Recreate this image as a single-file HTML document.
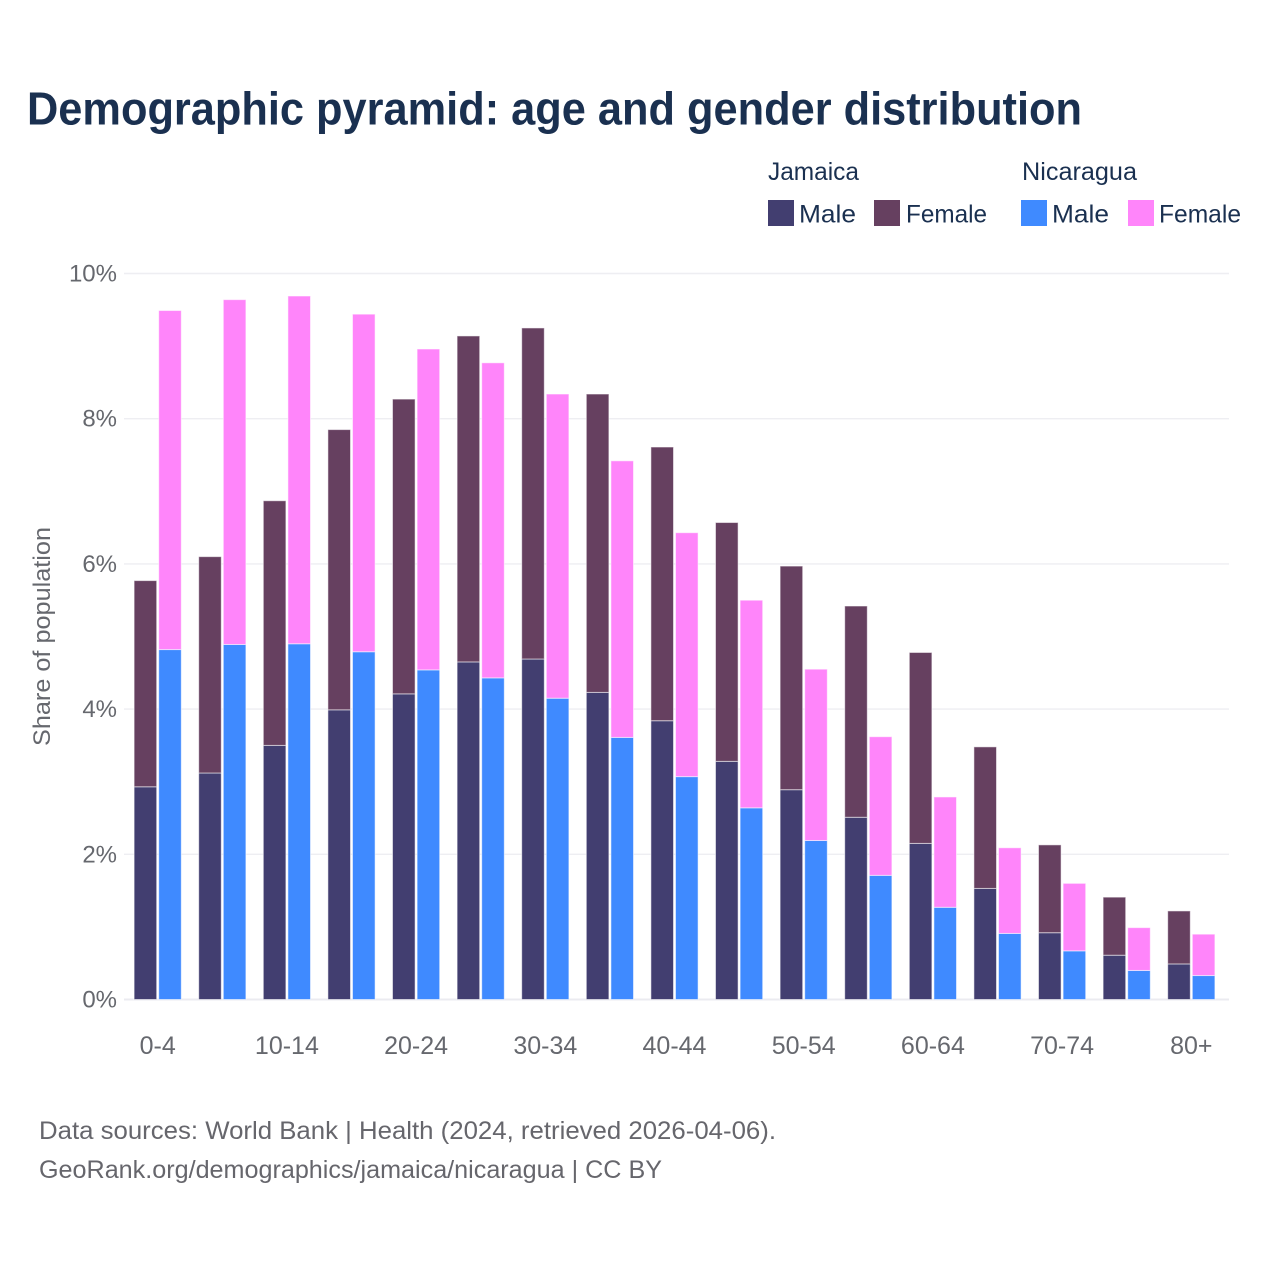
<!DOCTYPE html>
<html lang="en">
<head>
<meta charset="utf-8">
<title>Demographic pyramid: age and gender distribution</title>
<style>
html,body{margin:0;padding:0;background:#fff;width:1280px;height:1280px;overflow:hidden}
svg{display:block}
text{font-family:"Liberation Sans",Arial,sans-serif}
.tick{font-size:24px;fill:#66686e}
.xtick{font-size:25px;fill:#66686e}
.leg{font-size:25px;fill:#1a3050}
.foot{font-size:25px;fill:#66666c}
</style>
</head>
<body>
<svg id="chart" xmlns="http://www.w3.org/2000/svg" width="1280" height="1280" viewBox="0 0 1280 1280">
  <rect x="0" y="0" width="1280" height="1280" fill="#ffffff"/>
  <text x="27" y="124.5" font-size="46" font-weight="700" fill="#1a3050" textLength="1055" lengthAdjust="spacingAndGlyphs">Demographic pyramid: age and gender distribution</text>

  <g>
    <text class="leg" x="768" y="180" textLength="91" lengthAdjust="spacingAndGlyphs">Jamaica</text>
    <text class="leg" x="1022" y="180" textLength="115" lengthAdjust="spacingAndGlyphs">Nicaragua</text>
    <g>
      <rect x="768" y="200" width="26" height="26" fill="#423e70"/>
      <text class="leg" x="799" y="222.5" textLength="57" lengthAdjust="spacingAndGlyphs">Male</text>
    </g>
    <g>
      <rect x="874" y="200" width="26" height="26" fill="#664060"/>
      <text class="leg" x="906" y="222.5" textLength="81" lengthAdjust="spacingAndGlyphs">Female</text>
    </g>
    <g>
      <rect x="1021" y="200" width="26" height="26" fill="#3f8aff"/>
      <text class="leg" x="1052" y="222.5" textLength="57" lengthAdjust="spacingAndGlyphs">Male</text>
    </g>
    <g>
      <rect x="1128" y="200" width="26" height="26" fill="#ff85fa"/>
      <text class="leg" x="1159" y="222.5" textLength="82" lengthAdjust="spacingAndGlyphs">Female</text>
    </g>
  </g>

  <g id="grid"></g>
  <g id="yticks"></g>
  <g id="bars"></g>
  <g id="xticks"></g>

  <text x="0" y="0" transform="translate(50,636.5) rotate(-90)" text-anchor="middle" font-size="24" fill="#66686e" textLength="219" lengthAdjust="spacingAndGlyphs">Share of population</text>

  <text class="foot" x="39" y="1139" textLength="737" lengthAdjust="spacingAndGlyphs">Data sources: World Bank | Health (2024, retrieved 2026-04-06).</text>
  <text class="foot" x="39" y="1178" textLength="623" lengthAdjust="spacingAndGlyphs">GeoRank.org/demographics/jamaica/nicaragua | CC BY</text>
</svg>
<script>
const ageGroups = ["0-4","5-9","10-14","15-19","20-24","25-29","30-34","35-39","40-44","45-49","50-54","55-59","60-64","65-69","70-74","75-79","80+"];
const jamaicaMale = [2.93,3.12,3.50,3.99,4.21,4.65,4.69,4.23,3.84,3.28,2.89,2.51,2.15,1.53,0.92,0.61,0.49];
const jamaicaFemale = [2.84,2.98,3.37,3.86,4.06,4.49,4.56,4.11,3.77,3.29,3.08,2.91,2.63,1.95,1.21,0.80,0.73];
const nicaraguaMale = [4.82,4.89,4.90,4.79,4.54,4.43,4.15,3.61,3.07,2.64,2.19,1.71,1.27,0.91,0.67,0.40,0.33];
const nicaraguaFemale = [4.67,4.75,4.79,4.65,4.42,4.34,4.19,3.81,3.36,2.86,2.36,1.91,1.52,1.18,0.93,0.59,0.57];
const yTickValues = [0,2,4,6,8,10];
const yTickLabels = ["0%","2%","4%","6%","8%","10%"];
const xTickLabels = ["0-4","10-14","20-24","30-34","40-44","50-54","60-64","70-74","80+"];

const NS = "http://www.w3.org/2000/svg";
const plot = {left:124, right:1229, bottom:999.5, top:273.5, yMax:10, firstCenter:157.7, step:64.6, barWidth:22.6, barGap:2};

function yScale(v){ return plot.bottom - (v / plot.yMax) * (plot.bottom - plot.top); }
function xCenter(i){ return plot.firstCenter + i * plot.step; }

function make(tag, attrs, parent, txt){
  const el = document.createElementNS(NS, tag);
  for (const k in attrs) el.setAttribute(k, attrs[k]);
  if (txt !== undefined) el.textContent = txt;
  parent.appendChild(el);
  return el;
}

const gridG = document.getElementById("grid");
const yG = document.getElementById("yticks");
const xG = document.getElementById("xticks");
const barsG = document.getElementById("bars");

yTickValues.forEach(function(v, i){
  const y = yScale(v);
  const line = make("line", {x1:plot.left, x2:plot.right, y1:y, y2:y, stroke: v === 0 ? "#ebebf0" : "#eeeef2", "stroke-width": v === 0 ? 2 : 1.4}, gridG);
  
  
  const t = make("text", {x:117, y:y + 8, "text-anchor":"end", "class":"tick"}, yG, yTickLabels[i]);
  
  
});

xTickLabels.forEach(function(label){
  const idx = ageGroups.indexOf(label);
  const t = make("text", {x:xCenter(idx), y:1054, "text-anchor":"middle", "class":"xtick"}, xG, label);
  
  
});

function drawSegment(i, xLeft, base, value, fill){
  const yTop = yScale(base + value);
  const yBot = yScale(base);
  const r = make("rect", {x:xLeft, y:yTop, width:plot.barWidth, height:yBot - yTop, fill:fill, stroke:"#ffffff", "stroke-opacity":0.55, "stroke-width":1}, barsG);
  
  
}

ageGroups.forEach(function(_, i){
  const c = xCenter(i);
  const jx = c - plot.barGap / 2 - plot.barWidth;
  const nx = c + plot.barGap / 2;
  drawSegment(i, jx, 0, jamaicaMale[i], "#423e70");
  drawSegment(i, jx, jamaicaMale[i], jamaicaFemale[i], "#664060");
  drawSegment(i, nx, 0, nicaraguaMale[i], "#3f8aff");
  drawSegment(i, nx, nicaraguaMale[i], nicaraguaFemale[i], "#ff85fa");
});
</script>
</body>
</html>
